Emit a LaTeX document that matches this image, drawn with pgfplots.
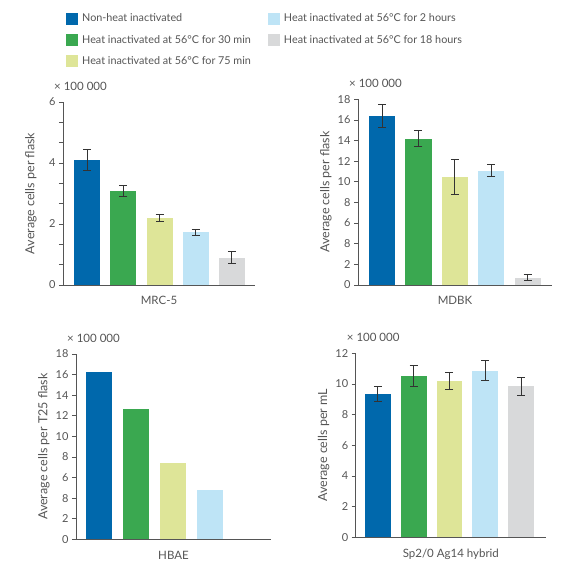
\documentclass[border=0pt]{standalone}
\usepackage{fontspec}
\setmainfont{Lato}
\usepackage{pgfplots}
\pgfplotsset{compat=1.18}
\definecolor{c1}{RGB}{0,104,172}
\definecolor{c2}{RGB}{58,168,80}
\definecolor{c3}{RGB}{222,229,152}
\definecolor{c4}{RGB}{190,228,246}
\definecolor{c5}{RGB}{216,217,218}
\definecolor{txt}{RGB}{85,85,85}
\pgfplotsset{
 panel/.style={
  scale only axis,
  ybar, bar width=0.72,
  every axis plot/.append style={bar shift=0pt, draw=none},
  axis lines=left,
  axis line style={-, draw=txt, line width=0.8pt},
  ymin=0,
  xtick=\empty,
  tick align=outside, major tick length=4pt,
  ytick style={draw=txt, line width=0.7pt},
  tick label style={font=\fontsize{11}{13}\selectfont, text=txt},
  /pgf/number format/assume math mode=true,
  every axis label/.append style={font=\fontsize{11.5}{13}\selectfont, text=txt},
  every axis x label/.style={at={(axis description cs:0.5,0)}, anchor=north, yshift=-8pt},
  every axis y label/.style={at={(axis description cs:0,0.5)}, xshift=-32pt, rotate=90, anchor=center, font=\fontsize{12.5}{14}\selectfont},
  clip=false,
  error bars/y dir=both,
  error bars/y explicit,
  error bars/error mark=-,
  error bars/error bar style={draw=black!80, line width=0.8pt},
  error bars/error mark options={rotate=90, draw=black!80, line width=0.8pt, mark size=4pt},
 },
}
\newcommand{\mult}{\node[anchor=west, text=txt, font=\fontsize{11.5}{13}\selectfont, inner sep=0pt] at ([xshift=-9pt,yshift=16pt]rel axis cs:0,1) {× 100 000};}
\begin{document}
\begin{tikzpicture}
\useasboundingbox (0,0) rectangle (567pt,574pt);
% MRC-5
\begin{axis}[panel, at={(63pt,289pt)}, anchor=south west, width=192pt, height=183pt,
  xmin=-0.67, xmax=4.64, ymax=6,
  ytick={0,0.6667,1.3333,2,2.6667,3.3333,4,4.6667,5.3333,6},
  yticklabels={0,,,2,,,4,,,6},
  xlabel={MRC-5}, ylabel={Average cells per flask},
  legend columns=2,
  legend cell align=left,
  legend style={at={(axis description cs:0.0,1.505)}, anchor=north west, draw=none, fill=none,
    font=\fontsize{10.8}{13}\selectfont, text=txt, row sep=8pt,
    /tikz/every odd column/.append style={column sep=2pt},
    /tikz/every even column/.append style={column sep=15pt}},
  legend image code/.code={\fill[#1] (0pt,-6pt) rectangle (12pt,6pt);},
]
\addlegendimage{fill=c1}\addlegendentry{Non-heat inactivated}
\addlegendimage{fill=c4}\addlegendentry{Heat inactivated at 56°C for 2 hours}
\addlegendimage{fill=c2}\addlegendentry{Heat inactivated at 56°C for 30 min}
\addlegendimage{fill=c5}\addlegendentry{Heat inactivated at 56°C for 18 hours}
\addlegendimage{fill=c3}\addlegendentry{Heat inactivated at 56°C for 75 min}
\addplot[fill=c1] coordinates {(0,4.11) +- (0,0.34)};
\addplot[fill=c2] coordinates {(1,3.09) +- (0,0.17)};
\addplot[fill=c3] coordinates {(2,2.21) +- (0,0.11)};
\addplot[fill=c4] coordinates {(3,1.73) +- (0,0.10)};
\addplot[fill=c5] coordinates {(4,0.90) +- (0,0.19)};
\mult
\end{axis}
% MDBK
\begin{axis}[panel, at={(358pt,289pt)}, anchor=south west, width=194pt, height=185.7pt,
  xmin=-0.66, xmax=4.67, ymax=18,
  ytick={0,2,...,18},
  yticklabels={0,2,8,6,8,10,12,14,16,18},
  xlabel={MDBK}, ylabel={Average cells per flask},
]
\addplot[fill=c1] coordinates {(0,16.42) +- (0,1.10)};
\addplot[fill=c2] coordinates {(1,14.19) +- (0,0.80)};
\addplot[fill=c3] coordinates {(2,10.44) +- (0,1.70)};
\addplot[fill=c4] coordinates {(3,11.09) +- (0,0.58)};
\addplot[fill=c5] coordinates {(4,0.71) +- (0,0.27)};
\mult
\end{axis}
% HBAE
\begin{axis}[panel, at={(76pt,34.7pt)}, anchor=south west, width=195pt, height=185.3pt,
  xmin=-0.62, xmax=4.65, ymax=18,
  ytick={0,2,...,18},
  yticklabels={0,2,8,6,8,10,12,14,16,18},
  xlabel={HBAE}, ylabel={Average cells per T25 flask},
  error bars/y dir=none,
]
\addplot[fill=c1] coordinates {(0,16.22)};
\addplot[fill=c2] coordinates {(1,12.66)};
\addplot[fill=c3] coordinates {(2,7.38)};
\addplot[fill=c4] coordinates {(3,4.76)};
\mult
\end{axis}
% Sp2/0
\begin{axis}[panel, at={(355.7pt,36.7pt)}, anchor=south west, width=190.3pt, height=184pt,
  xmin=-0.62, xmax=4.7, ymax=12,
  ytick={0,2,...,12},
  xlabel={Sp2/0 Ag14 hybrid}, ylabel={Average cells per mL},
]
\addplot[fill=c1] coordinates {(0,9.35) +- (0,0.49)};
\addplot[fill=c2] coordinates {(1,10.54) +- (0,0.67)};
\addplot[fill=c3] coordinates {(2,10.20) +- (0,0.53)};
\addplot[fill=c4] coordinates {(3,10.87) +- (0,0.67)};
\addplot[fill=c5] coordinates {(4,9.85) +- (0,0.57)};
\mult
\end{axis}
\end{tikzpicture}
\end{document}
